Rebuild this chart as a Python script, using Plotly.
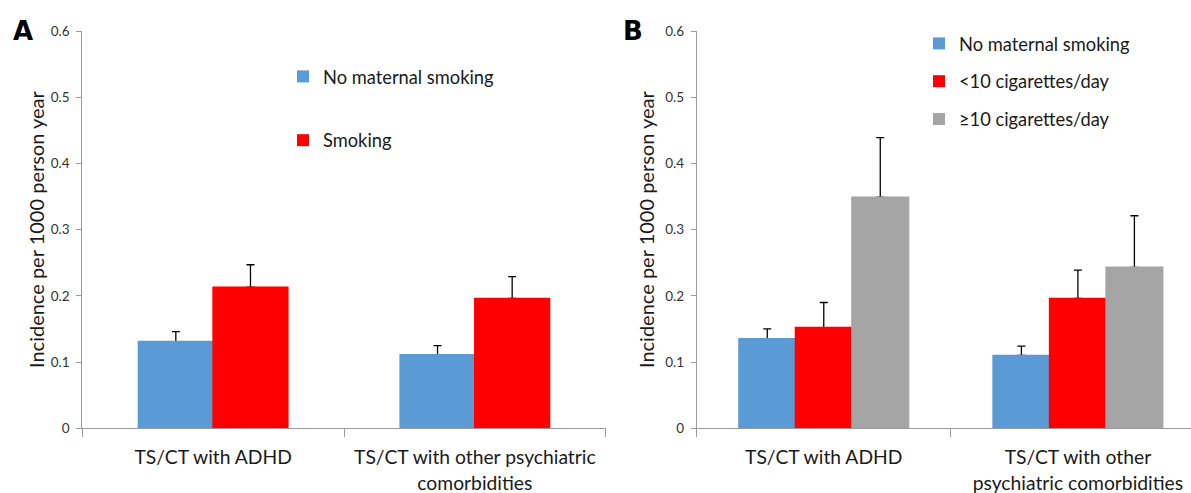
import plotly.graph_objects as go

# ---------------- data ----------------
categories_a = ["TS/CT with ADHD", "TS/CT with other psychiatric<br>comorbidities"]
categories_b = ["TS/CT with ADHD", "TS/CT with other<br>psychiatric comorbidities"]

a_series_names = ["No maternal smoking", "Smoking"]
a_no_smoking = [0.131, 0.111]
a_no_smoking_err = [0.015, 0.014]
a_smoking = [0.213, 0.196]
a_smoking_err = [0.034, 0.033]

b_series_names = ["No maternal smoking", "<10 cigarettes/day", "\u226510 cigarettes/day"]
b_no_smoking = [0.135, 0.110]
b_no_smoking_err = [0.015, 0.014]
b_lt10 = [0.152, 0.196]
b_lt10_err = [0.038, 0.043]
b_ge10 = [0.349, 0.243]
b_ge10_err = [0.090, 0.078]

y_title = "Incidence per 1000 person year"

# ---------------- style ----------------
COLORS = ["#5B9BD5", "#FF0000", "#A5A5A5"]
FONT = "Lato, 'Open Sans', sans-serif"
TEXT = "#1a1a1a"
AXIS = "#9a9a9a"
W, H = 1191, 493

fig = go.Figure()


def add_group(names, values, errs, xref, yref, legend, group_frac, categories):
    n = len(values)
    bw = group_frac / n
    for i, (name, vals, err) in enumerate(zip(names, values, errs)):
        off = -group_frac / 2 + i * bw
        common = dict(x=categories, y=vals, width=bw, offset=off,
                      xaxis=xref, yaxis=yref,
                      legendgroup=f"{legend}_{i}", legend=legend)
        fig.add_trace(go.Bar(name=name, **common,
                             marker=dict(color=COLORS[i], line=dict(width=0)),
                             error_y=dict(type="data", symmetric=False, array=err,
                                          arrayminus=[0] * len(err), color="black",
                                          thickness=1.3, width=4)))
        # cover trace hides the lower cap of the one-sided error bar
        fig.add_trace(go.Bar(name=name, showlegend=False, hoverinfo="skip", **common,
                             marker=dict(color=COLORS[i],
                                         line=dict(width=1.6, color=COLORS[i]))))


add_group(a_series_names, [a_no_smoking, a_smoking], [a_no_smoking_err, a_smoking_err],
          "x", "y", "legend", 0.5705, categories_a)
add_group(b_series_names, [b_no_smoking, b_lt10, b_ge10],
          [b_no_smoking_err, b_lt10_err, b_ge10_err],
          "x2", "y2", "legend2", 0.667, categories_b)

ydom = [(H - 428.3) / H, (H - 31) / H]

xcommon = dict(type="category", showline=True, linecolor=AXIS, linewidth=1,
               ticks="outside", tickson="boundaries", ticklen=8, tickcolor=AXIS,
               showgrid=False, zeroline=False, ticklabelstandoff=12, automargin=False,
               tickfont=dict(family=FONT, size=19.3, color=TEXT))
ycommon = dict(range=[0, 0.6], dtick=0.1, tick0=0, showline=True, linecolor=AXIS,
               linewidth=1, ticks="outside", ticklen=5, tickcolor=AXIS,
               showgrid=False, zeroline=False, ticklabelstandoff=4, automargin=False,
               tickfont=dict(family=FONT, size=13.5, color="#333333"),
               domain=ydom)


def ytitle(standoff):
    return dict(text=y_title, font=dict(family=FONT, size=20, color=TEXT), standoff=standoff)


LETTER_FONT = dict(family="DejaVu Sans, Liberation Sans, Arial, sans-serif", size=26,
                   color="black")

fig.update_layout(
    template="none",
    width=W, height=H,
    margin=dict(l=0, r=0, t=0, b=0, autoexpand=False),
    paper_bgcolor="white", plot_bgcolor="white",
    barmode="overlay",
    showlegend=True,
    xaxis=dict(domain=[82.3 / W, 605.7 / W], range=[-0.5, 1.5], anchor="y", **xcommon),
    yaxis=dict(anchor="x", title=ytitle(0), **ycommon),
    xaxis2=dict(domain=[696.7 / W, 1.0], range=[-0.5, 1.445], anchor="y2", **xcommon),
    yaxis2=dict(anchor="x2", title=ytitle(5), **ycommon),
    legend=dict(x=283 / W, y=1 - 58 / H, xanchor="left", yanchor="top",
                traceorder="grouped", tracegroupgap=37, bgcolor="rgba(0,0,0,0)",
                borderwidth=0,
                font=dict(family=FONT, size=18.3, color=TEXT)),
    legend2=dict(x=919 / W, y=1 - 25 / H, xanchor="left", yanchor="top",
                 traceorder="grouped", tracegroupgap=11, bgcolor="rgba(0,0,0,0)",
                 borderwidth=0,
                 font=dict(family=FONT, size=18.3, color=TEXT)),
    annotations=[
        dict(text="<b>A</b>", x=11 / W, y=1 - 30.5 / H, xref="paper", yref="paper",
             xanchor="left", yanchor="middle", showarrow=False, font=LETTER_FONT),
        dict(text="<b>B</b>", x=621 / W, y=1 - 30.5 / H, xref="paper", yref="paper",
             xanchor="left", yanchor="middle", showarrow=False, font=LETTER_FONT),
    ],
)

fig.write_html("out.html", config={"displayModeBar": False},
               post_script="document.body.style.margin='0';document.body.style.padding='0';")
